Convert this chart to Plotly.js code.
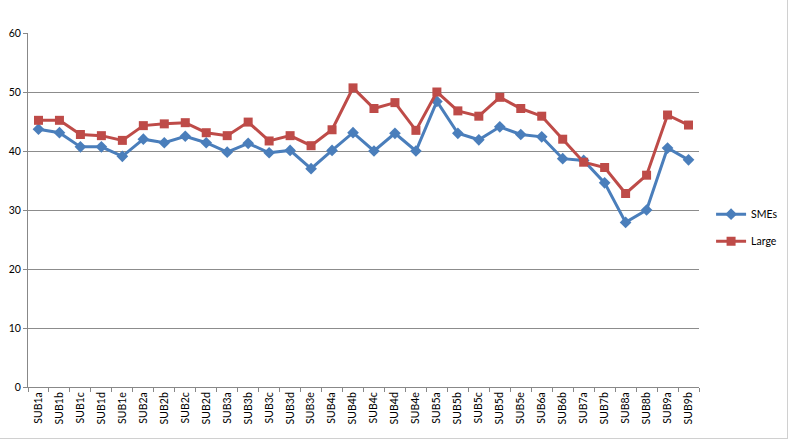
<!DOCTYPE html>
<html>
<head>
<meta charset="utf-8">
<script src="https://cdn.plot.ly/plotly-3.0.1.min.js"></script>
<style>
html,body{margin:0;padding:0;background:#fff;}
#wrap{position:absolute;left:0;top:0;width:787px;height:438px;border-right:1px solid #d0d0d0;border-bottom:1px solid #d0d0d0;}
#chart{width:790px;height:444px;}
</style>
</head>
<body>
<div id="wrap"></div>
<div id="chart" style="position:absolute;left:0;top:0;"></div>
<script>
const categories = ["SUB1a","SUB1b","SUB1c","SUB1d","SUB1e","SUB2a","SUB2b","SUB2c","SUB2d","SUB3a","SUB3b","SUB3c","SUB3d","SUB3e","SUB4a","SUB4b","SUB4c","SUB4d","SUB4e","SUB5a","SUB5b","SUB5c","SUB5d","SUB5e","SUB6a","SUB6b","SUB7a","SUB7b","SUB8a","SUB8b","SUB9a","SUB9b"];
const smes = [43.7,43.1,40.7,40.7,39.1,42.0,41.4,42.5,41.4,39.8,41.3,39.7,40.1,37.0,40.1,43.1,40.0,43.0,40.0,48.4,43.0,41.9,44.1,42.8,42.4,38.7,38.4,34.6,27.9,30.0,40.5,38.5];
const large = [45.2,45.2,42.8,42.6,41.8,44.3,44.6,44.8,43.1,42.6,44.9,41.7,42.6,40.9,43.6,50.7,47.2,48.2,43.5,50.0,46.8,45.9,49.1,47.2,45.9,42.0,38.1,37.2,32.8,35.9,46.1,44.4];
const yTicks = [0,10,20,30,40,50,60];

const fontFam = "Lato, 'Open Sans', sans-serif";
const traces = [
  {x: categories, y: smes, name: "SMEs", type: "scatter", mode: "lines+markers", legendgroup: "a",
   line: {color: "#4a7ebb", width: 3}, marker: {symbol: "diamond", size: 9, color: "#4a7ebb"}},
  {x: categories, y: large, name: "Large", type: "scatter", mode: "lines+markers", legendgroup: "b",
   line: {color: "#be4b48", width: 3}, marker: {symbol: "square", size: 9, color: "#be4b48"}}
];
const layout = {
  width: 790, height: 444,
  margin: {l: 28, r: 91, t: 33, b: 57, autoexpand: false},
  paper_bgcolor: "rgba(0,0,0,0)", plot_bgcolor: "rgba(0,0,0,0)",
  font: {family: fontFam, size: 10, color: "#000"},
  showlegend: true,
  legend: {x: 1.018, y: 0.45, xanchor: "left", yanchor: "middle", font: {size: 10.5, family: fontFam},
           tracegroupgap: 8, itemwidth: 30},
  xaxis: {type: "category", tickangle: -90, showgrid: false, showline: true, linecolor: "#888", linewidth: 1,
          ticks: "outside", tickson: "boundaries", ticklen: 4, tickcolor: "#888",
          tickfont: {size: 10.5, family: fontFam}, range: [-0.5, categories.length - 0.5], fixedrange: true},
  yaxis: {range: [0, 60], tickvals: yTicks, showgrid: true, gridcolor: "#8c8c8c", gridwidth: 1,
          showline: true, linecolor: "#888", linewidth: 1, ticks: "outside", ticklen: 4, tickcolor: "#888",
          zeroline: false, tickfont: {size: 10.5, family: fontFam}, ticklabelstandoff: 0}
};
Plotly.newPlot("chart", traces, layout, {displayModeBar: false, staticPlot: true});
</script>
</body>
</html>
